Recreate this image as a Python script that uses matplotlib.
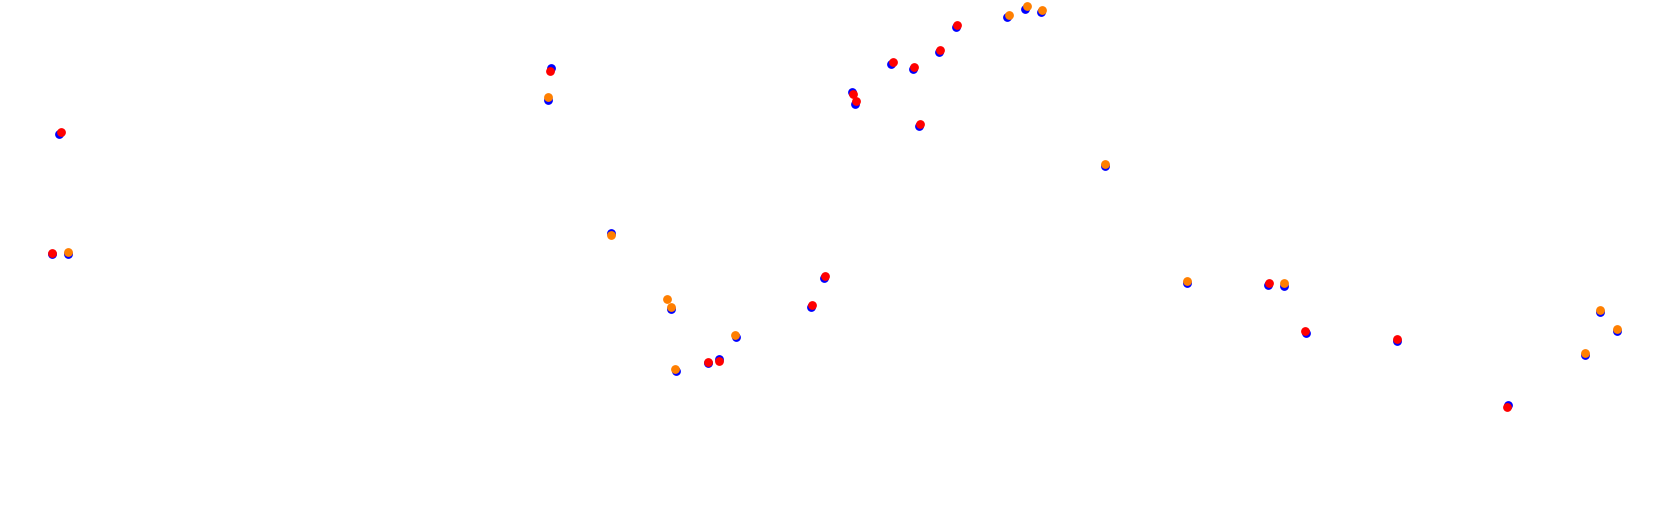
import matplotlib.pyplot as plt

# positions (x to the right, y downward)
blue_x = [59, 52, 68, 551, 548, 611, 671, 676, 708, 719, 736, 811, 824, 852, 855,
          891, 913, 919, 939, 956, 1007, 1025, 1041, 1105, 1187, 1268, 1284, 1306,
          1397, 1508, 1585, 1600, 1617]
blue_y = [134, 254, 254, 68, 100, 233, 309, 371, 363, 359, 337, 307, 278, 92, 104,
          64, 69, 126, 52, 27, 17, 9, 12, 166, 283, 285, 286, 333, 341, 405, 355,
          312, 331]

orange_x = [68, 548, 611, 667, 671, 675, 735, 1009, 1027, 1042, 1105, 1187, 1284,
            1585, 1600, 1617]
orange_y = [252, 97, 235, 299, 307, 369, 335, 15, 6, 10, 164, 281, 283, 353, 310, 329]

red_x = [61, 52, 550, 708, 719, 812, 825, 853, 856, 893, 914, 920, 940, 957, 1269,
         1305, 1397, 1507]
red_y = [132, 253, 71, 362, 361, 305, 276, 94, 101, 62, 67, 124, 50, 25, 283, 331,
         339, 407]

fig = plt.figure(figsize=(16.8, 5.08), dpi=100)
ax = fig.add_axes([0, 0, 1, 1])

ax.scatter(blue_x, blue_y, s=40, color="blue", linewidths=0)
ax.scatter(orange_x, orange_y, s=40, color="#ff7f00", linewidths=0)
ax.scatter(red_x, red_y, s=40, color="red", linewidths=0)

ax.set_xlim(0, 1680)
ax.set_ylim(508, 0)
ax.axis("off")

fig.savefig("out.png", dpi=100)
